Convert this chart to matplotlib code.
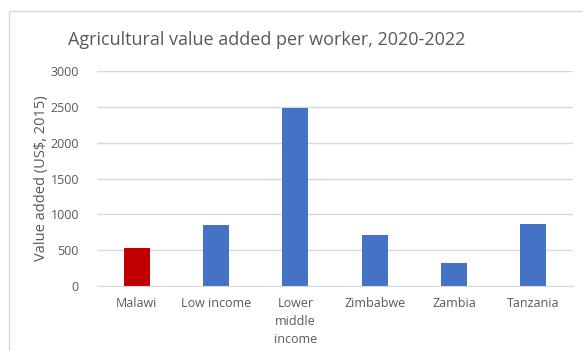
import matplotlib.pyplot as plt
from matplotlib.patches import Rectangle

categories = ['Malawi', 'Low income', 'Lower\nmiddle\nincome', 'Zimbabwe', 'Zambia', 'Tanzania']
values = [535, 850, 2490, 710, 320, 870]
colors = ['#C00000', '#4472C4', '#4472C4', '#4472C4', '#4472C4', '#4472C4']
yticks = [0, 500, 1000, 1500, 2000, 2500, 3000]

text_color = '#595959'
plt.rcParams['font.family'] = ['Open Sans', 'DejaVu Sans']

fig = plt.figure(figsize=(5.83, 3.51), dpi=100)
W, H = 583, 351
ax = fig.add_axes([97 / W, 1 - 286 / H, (573 - 97) / W, (286 - 71) / H])

x = range(len(categories))
ax.bar(x, values, width=0.33, color=colors, zorder=3)

ax.set_xlim(-0.5, len(categories) - 0.5)
ax.set_ylim(0, 3000)
ax.set_yticks(yticks)
ax.set_yticklabels([str(t) for t in yticks], fontsize=9, color=text_color)
ax.set_xticks(list(x))
ax.set_xticklabels(categories, fontsize=9, color=text_color, linespacing=1.5)
ax.tick_params(axis='y', length=0, pad=13)
ax.tick_params(axis='x', length=0, pad=8)
ax.grid(axis='y', color='#D9D9D9', linewidth=1, zorder=0)
for side in ['top', 'right', 'left']:
    ax.spines[side].set_visible(False)
ax.spines['bottom'].set_color('#D9D9D9')
ax.spines['bottom'].set_zorder(4)

ax.set_ylabel('Value added (US$, 2015)', fontsize=10.5, color=text_color)
ax.yaxis.set_label_coords(-0.10, 0.5)

fig.text(267 / W, 1 - 40 / H, 'Agricultural value added per worker, 2020-2022',
         ha='center', va='center', fontsize=13, color=text_color)

# chart area border
fig.patches.append(Rectangle((9 / W, -0.1), 1.2, 1 - 11 / H + 0.1,
                             transform=fig.transFigure, fill=False,
                             edgecolor='#D9D9D9', linewidth=1))

fig.savefig('out.png', dpi=100)
